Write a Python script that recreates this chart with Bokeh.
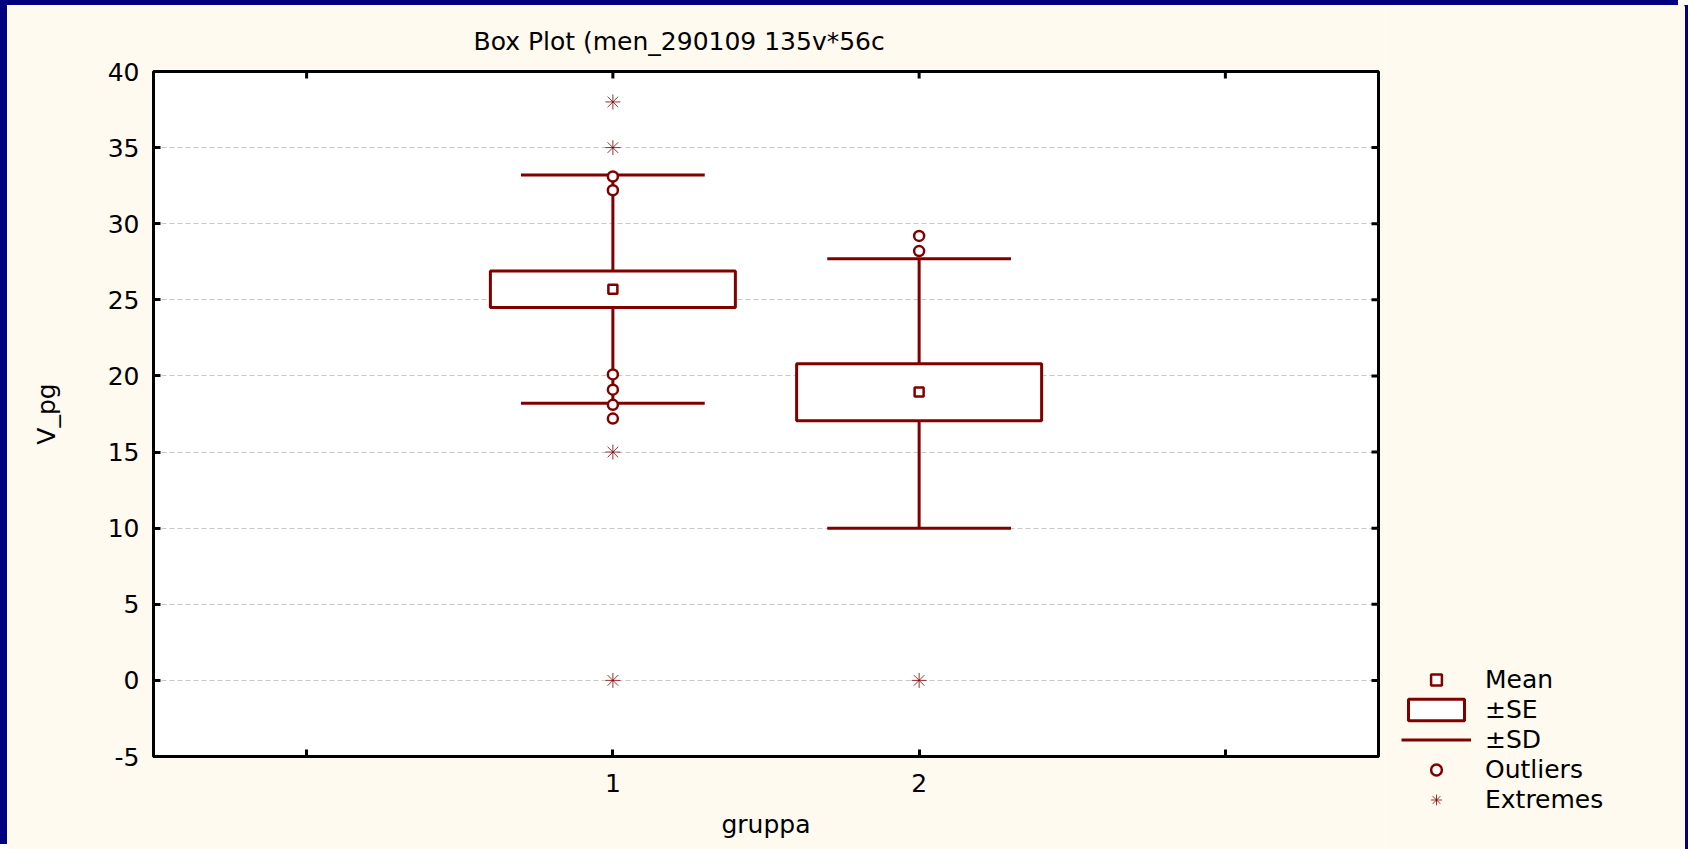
from bokeh.plotting import figure
from bokeh.models import Range1d, FixedTicker, Legend, LegendItem, ColumnDataSource
from bokeh.layouts import row
from bokeh.transform import dodge
from bokeh.embed import file_html
from bokeh.resources import INLINE

# ---- data ----
groups = [1, 2]
means = [25.7, 18.95]
se_low = [24.5, 17.05]
se_high = [26.9, 20.8]
sd_low = [18.2, 10.0]
sd_high = [33.2, 27.7]
outlier_x = [1, 1, 1, 1, 1, 1, 2, 2]
outlier_y = [33.1, 32.2, 20.1, 19.1, 18.1, 17.2, 29.2, 28.2]
extreme_x = [1, 1, 1, 1, 2]
extreme_y = [38.0, 35.0, 15.0, 0.0, 0.0]
x_ticks = [0, 1, 2, 3]
x_tick_labels = {0: "", 1: "1", 2: "2", 3: ""}
y_ticks = [-5, 0, 5, 10, 15, 20, 25, 30, 35, 40]
y_tick_labels = {-5: "-5"}
x_lo, x_hi = -0.5, 3.5
y_lo, y_hi = -5, 40
legend_labels = ["Mean", "±SE", "±SD", "Outliers", "Extremes"]
title_text = "Box Plot (men_290109 135v*56c"
x_label = "gruppa"
y_label = "V_pg"

MAROON = "#800000"
CREAM = "#FFFAF0"
NAVY = "#000080"
FONT = "DejaVu Sans"
FS = "25px"

src = ColumnDataSource(dict(x=groups, mean=means, se_lo=se_low, se_hi=se_high,
                            sd_lo=sd_low, sd_hi=sd_high))
out_src = ColumnDataSource(dict(x=outlier_x, y=outlier_y))
ext_src = ColumnDataSource(dict(x=extreme_x, y=extreme_y))

p = figure(frame_width=1225, frame_height=685,
           x_range=Range1d(x_lo, x_hi), y_range=Range1d(y_lo, y_hi),
           output_backend="svg", toolbar_location=None,
           min_border_left=146, min_border_right=7, min_border_top=66, min_border_bottom=93,
           background_fill_color="white", border_fill_color=CREAM,
           outline_line_color="black", outline_line_width=3)
p.frame_align = False

p.title.text = title_text
p.title.text_font = FONT
p.title.text_font_size = FS
p.title.text_font_style = "normal"
p.title.text_color = "black"
p.title.align = "left"
p.title.offset = 320
p.title.standoff = 32

p.xaxis.ticker = FixedTicker(ticks=x_ticks)
p.xaxis.major_label_overrides = x_tick_labels
p.yaxis.ticker = FixedTicker(ticks=y_ticks)
p.yaxis.major_label_overrides = y_tick_labels
p.xaxis.axis_label = x_label
p.yaxis.axis_label = y_label

for ax in p.axis:
    ax.axis_line_color = None
    ax.major_tick_in = 7
    ax.major_tick_out = 0
    ax.major_tick_line_width = 3
    ax.major_tick_line_color = "black"
    ax.minor_tick_line_color = None
    ax.major_label_text_font = FONT
    ax.major_label_text_font_size = FS
    ax.major_label_text_color = "black"
    ax.axis_label_text_font = FONT
    ax.axis_label_text_font_size = FS
    ax.axis_label_text_font_style = "normal"
    ax.axis_label_text_color = "black"

p.xaxis[0].major_label_standoff = 17
p.xaxis[0].axis_label_standoff = 15
p.yaxis[0].major_label_standoff = 14
p.yaxis[0].axis_label_standoff = 44

p.xgrid.visible = False
p.ygrid.ticker = FixedTicker(ticks=y_ticks)
p.ygrid.grid_line_color = "#C8C8C8"
p.ygrid.grid_line_dash = "5 3"
p.ygrid.grid_line_width = 1

# inward tick marks on the top and right edges (half of each dash is clipped by the frame)
p.scatter(x=x_ticks, y=[y_hi] * len(x_ticks), marker="dash", angle=1.5708, size=14,
          line_color="black", line_width=3)
p.scatter(x=[x_hi] * len(y_ticks), y=y_ticks, marker="dash", size=14,
          line_color="black", line_width=3)

LINE = dict(line_color=MAROON, line_width=3)
MEAN = dict(marker="square", fill_color="white", line_color=MAROON, line_width=2.5)
OUT = dict(marker="circle", fill_color="white", line_color=MAROON, line_width=2.5)
EXT = dict(marker="asterisk", line_color=MAROON, line_width=1, line_alpha=0.8)


def draw(fig, sz_mean=9, sz_out=10, sz_ext=15):
    # whisker stems
    fig.segment(x0="x", y0="se_hi", x1="x", y1="sd_hi", source=src, **LINE)
    fig.segment(x0="x", y0="se_lo", x1="x", y1="sd_lo", source=src, **LINE)
    # caps
    r_sd = fig.segment(x0=dodge("x", -0.3), y0="sd_hi", x1=dodge("x", 0.3), y1="sd_hi",
                       source=src, **LINE)
    fig.segment(x0=dodge("x", -0.3), y0="sd_lo", x1=dodge("x", 0.3), y1="sd_lo",
                source=src, **LINE)
    # SE box
    r_box = fig.vbar(x="x", width=0.8, top="se_hi", bottom="se_lo", source=src,
                     fill_color="white", **LINE)
    # mean, outliers, extremes
    r_mean = fig.scatter(x="x", y="mean", source=src, size=sz_mean, **MEAN)
    r_out = fig.scatter(x="x", y="y", source=out_src, size=sz_out, **OUT)
    r_ext = fig.scatter(x="x", y="y", source=ext_src, size=sz_ext, **EXT)
    return [r_mean, r_box, r_sd, r_out, r_ext]


draw(p)

# ---- legend panel: an axis-less figure whose ranges keep its copies of the marks out of view ----
lg = figure(width=300, height=844, x_range=Range1d(-20, -10), y_range=Range1d(-200, -100),
            x_axis_type=None, y_axis_type=None, output_backend="svg", toolbar_location=None,
            min_border=0, background_fill_color=CREAM, border_fill_color=CREAM,
            outline_line_color=None)
lg.frame_align = False
lg.grid.visible = False
legend_renderers = draw(lg)

legend = Legend(items=[LegendItem(label=lab, renderers=[r], index=0)
                       for lab, r in zip(legend_labels, legend_renderers)],
                location=(16, 35), glyph_width=70, glyph_height=27, spacing=1,
                padding=0, margin=0, label_standoff=14,
                border_line_color=None, background_fill_alpha=0,
                label_text_font=FONT, label_text_font_size=FS, label_text_color="black")
lg.add_layout(legend)

lay = row(p, lg)
lay.styles = {"margin-left": "7px", "margin-top": "5px",
              "box-shadow": f"-7px -5px 0 0 {NAVY}, 3px 0 0 0 {NAVY}"}

open("out.html", "w").write(file_html(lay, INLINE))
